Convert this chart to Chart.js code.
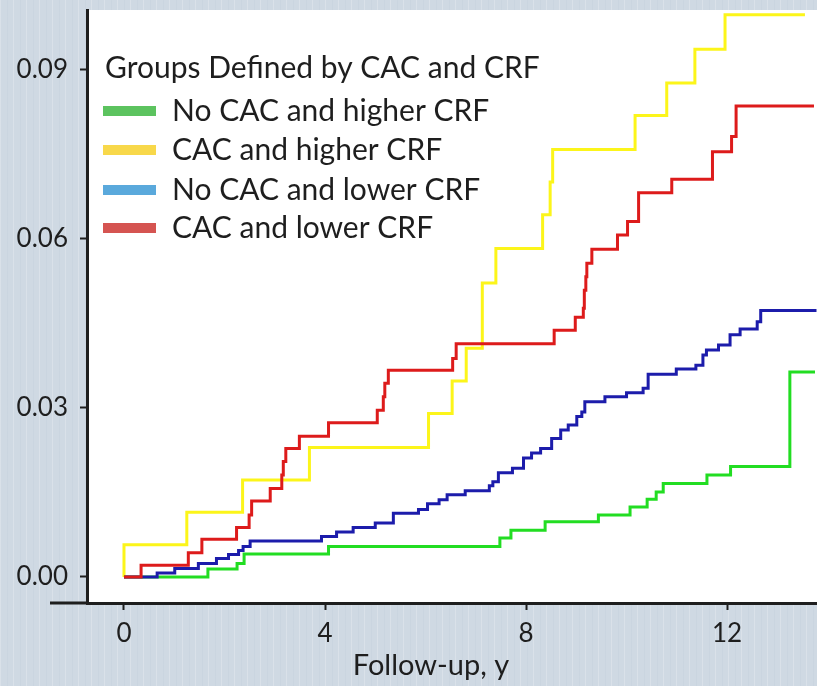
<!DOCTYPE html>
<html>
<head>
<meta charset="utf-8">
<script src="https://cdn.jsdelivr.net/npm/chart.js@4"></script>
<style>
  html, body { margin: 0; padding: 0; }
  body {
    width: 817px; height: 686px; overflow: hidden;
    background-color: #cfd9e3;
    background-image: repeating-linear-gradient(90deg, rgba(255,255,255,0.22) 0 1px, rgba(255,255,255,0) 1px 7px, rgba(180,195,210,0.18) 7px 8px, rgba(255,255,255,0) 8px 13px);
  }
  #km { display: block; }
</style>
</head>
<body>
<canvas id="km" width="817" height="686"></canvas>
<script>
// groups, legend order
const groupNames = ['No CAC and higher CRF', 'CAC and higher CRF', 'No CAC and lower CRF', 'CAC and lower CRF'];
const legendTitle = 'Groups Defined by CAC and CRF';
const xTitle = 'Follow-up, y';
const xTicks = [0, 4, 8, 12];
const yTicks = [0, 0.03, 0.06, 0.09];

// cumulative incidence
const greenT = [0, 1.67, 2.25, 2.39, 4.07, 7.48, 7.70, 8.38, 9.44, 10.07, 10.41, 10.59, 10.73, 11.60, 12.07, 13.25, 13.75];
const greenV = [0, 0.0014, 0.0024, 0.0041, 0.0054, 0.0069, 0.0083, 0.0098, 0.0110, 0.0124, 0.0138, 0.0151, 0.0166, 0.0181, 0.0196, 0.0364, 0.0364];

const yellowT = [0, 0, 1.25, 2.36, 3.69, 6.06, 6.53, 6.81, 7.13, 7.40, 8.33, 8.48, 8.53, 10.17, 10.80, 11.36, 11.96, 13.55];
const yellowV = [0, 0.0057, 0.0115, 0.0172, 0.0230, 0.0290, 0.0348, 0.0406, 0.0522, 0.0583, 0.0643, 0.0701, 0.0759, 0.0819, 0.0877, 0.0937, 0.0998, 0.0998];

const blueT = [0, 0.66, 1.01, 1.48, 1.84, 2.08, 2.28, 2.37, 2.51, 3.93, 4.23, 4.56, 5.0, 5.36, 5.86, 6.04, 6.27, 6.43, 6.79, 7.27, 7.34, 7.45, 7.73, 7.95, 8.11, 8.29, 8.51, 8.69, 8.84, 9.01, 9.11, 9.17, 9.57, 10.0, 10.33, 10.43, 10.99, 11.38, 11.52, 11.59, 11.83, 12.06, 12.26, 12.60, 12.67, 13.78];
const blueV = [0, 0.0007, 0.0015, 0.0024, 0.0033, 0.0040, 0.0047, 0.0054, 0.0064, 0.0072, 0.0080, 0.0088, 0.0096, 0.0113, 0.0120, 0.0130, 0.0137, 0.0146, 0.0153, 0.0162, 0.0169, 0.0185, 0.0193, 0.0211, 0.0220, 0.0228, 0.0246, 0.0261, 0.0270, 0.0285, 0.0293, 0.0311, 0.0320, 0.0327, 0.0335, 0.0360, 0.0369, 0.0376, 0.0394, 0.0403, 0.0412, 0.0430, 0.0440, 0.0453, 0.0473, 0.0473];

const redT = [0, 0.34, 1.28, 1.55, 2.24, 2.49, 2.54, 2.91, 3.14, 3.17, 3.22, 3.49, 4.07, 5.04, 5.16, 5.19, 5.26, 6.54, 6.61, 8.56, 8.98, 9.14, 9.16, 9.19, 9.21, 9.31, 9.82, 10.02, 10.24, 10.90, 11.71, 12.09, 12.18, 13.73];
const redV = [0, 0.0021, 0.0043, 0.0067, 0.0088, 0.0110, 0.0135, 0.0157, 0.0181, 0.0205, 0.0228, 0.0250, 0.0274, 0.0296, 0.0320, 0.0344, 0.0367, 0.0388, 0.0414, 0.0438, 0.0461, 0.0477, 0.0509, 0.0533, 0.0557, 0.0582, 0.0607, 0.0631, 0.0682, 0.0706, 0.0755, 0.0782, 0.0836, 0.0836];

const lineColors = ['#22dd22', '#fcf51a', '#1c1cab', '#dd1b1b'];
const legendColors = ['#5cc35f', '#f8d84a', '#5aa9dc', '#d55451'];

const FONT = 'Lato, "Open Sans", sans-serif';
const INK = '#1e1e1e';

const toXY = (ts, vs) => ts.map((t, i) => ({ x: t, y: vs[i] }));
const series = [toXY(greenT, greenV), toXY(yellowT, yellowV), toXY(blueT, blueV), toXY(redT, redV)];
const drawOrder = [3, 2, 1, 0]; // red on top

const plotBg = {
  id: 'plotBg',
  beforeDraw(chart) {
    const { ctx, chartArea: a } = chart;
    ctx.save();
    ctx.fillStyle = '#ffffff';
    ctx.fillRect(a.left, a.top, a.right - a.left, a.bottom - a.top);
    ctx.restore();
  }
};

const extras = {
  id: 'extras',
  afterDraw(chart) {
    const { ctx, chartArea: a } = chart;
    ctx.save();
    // x axis line runs a bit past the y axis
    ctx.strokeStyle = INK;
    ctx.lineWidth = 3;
    ctx.beginPath();
    ctx.moveTo(50, a.bottom);
    ctx.lineTo(a.left, a.bottom);
    ctx.stroke();

    // x title
    ctx.fillStyle = INK;
    ctx.font = '29px ' + FONT;
    ctx.textAlign = 'center';
    ctx.textBaseline = 'middle';
    ctx.fillText(xTitle, 431, 666);

    // legend
    ctx.textAlign = 'left';
    ctx.font = '30px ' + FONT;
    ctx.fillText(legendTitle, 105, 68);
    const rows = [111, 150, 190, 228];
    groupNames.forEach((name, i) => {
      ctx.fillStyle = legendColors[i];
      ctx.fillRect(103, rows[i] - 5, 53, 10);
      ctx.fillStyle = INK;
      ctx.fillText(name, 172, rows[i]);
    });
    ctx.restore();
  }
};

new Chart(document.getElementById('km'), {
  type: 'line',
  data: {
    datasets: series.map((d, i) => ({
      label: groupNames[i],
      data: d,
      borderColor: lineColors[i],
      backgroundColor: lineColors[i],
      borderWidth: 3,
      stepped: true,
      fill: false,
      pointRadius: 0,
      order: drawOrder[i],
    })),
  },
  options: {
    responsive: false,
    animation: false,
    devicePixelRatio: 1,
    layout: { padding: { top: 10, right: 0, left: 0, bottom: 0 } },
    plugins: {
      legend: { display: false },
      tooltip: { enabled: false },
    },
    scales: {
      x: {
        type: 'linear',
        min: -0.736,
        max: 13.79,
        afterFit: (s) => { s.height = 83; s.paddingLeft = 0; s.paddingRight = 0; },
        afterBuildTicks: (s) => { s.ticks = xTicks.map(v => ({ value: v })); },
        ticks: {
          color: INK,
          font: { family: FONT, size: 26 },
          padding: 8,
          maxRotation: 0,
          callback: (v) => String(v),
        },
        grid: { drawOnChartArea: false, drawTicks: true, tickLength: 7, tickWidth: 2, tickColor: INK },
        border: { display: true, color: INK, width: 3 },
      },
      y: {
        type: 'linear',
        min: -0.00462,
        max: 0.10065,
        afterFit: (s) => { s.width = 87; s.paddingTop = 0; s.paddingBottom = 0; },
        afterBuildTicks: (s) => { s.ticks = yTicks.map(v => ({ value: v })); },
        ticks: {
          color: INK,
          font: { family: FONT, size: 26 },
          padding: 12,
          callback: (v) => v.toFixed(2),
        },
        grid: { drawOnChartArea: false, drawTicks: true, tickLength: 7, tickWidth: 2, tickColor: INK },
        border: { display: true, color: INK, width: 3 },
      },
    },
  },
  plugins: [plotBg, extras],
});
</script>
</body>
</html>
